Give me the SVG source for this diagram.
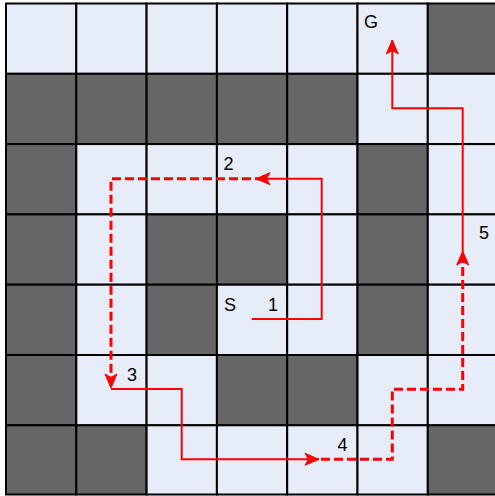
<svg xmlns="http://www.w3.org/2000/svg" width="495" height="496" viewBox="0 0 495 496">
<defs>
<style>
.l{fill:#e6edf8;stroke:#000;stroke-width:2}
.d{fill:#666666;stroke:#000;stroke-width:2}
.s{fill:none;stroke:#ff0000;stroke-width:2}
.ds{fill:none;stroke:#ff0000;stroke-width:3;stroke-dasharray:9 4}
text{font-family:"Liberation Sans",Arial,sans-serif;font-size:18px;fill:#000}
</style>
<marker id="ah" markerUnits="userSpaceOnUse" viewBox="-15 -7 16 14" refX="0" refY="0" markerWidth="16" markerHeight="14" orient="auto">
<path d="M0,0 L-14,-6 L-10.5,0 L-14,6 Z" fill="#ff0000" stroke="#ff0000" stroke-width="1"/>
</marker>
</defs>
<rect width="495" height="496" fill="#ffffff"/>
<g id="grid">
<rect class="l" x="6" y="3.5" width="70.3" height="70.3"/>
<rect class="l" x="76.3" y="3.5" width="70.3" height="70.3"/>
<rect class="l" x="146.6" y="3.5" width="70.3" height="70.3"/>
<rect class="l" x="216.9" y="3.5" width="70.3" height="70.3"/>
<rect class="l" x="287.2" y="3.5" width="70.3" height="70.3"/>
<rect class="l" x="357.5" y="3.5" width="70.3" height="70.3"/>
<rect class="d" x="427.8" y="3.5" width="70.3" height="70.3"/>
<rect class="d" x="6" y="73.8" width="70.3" height="70.3"/>
<rect class="d" x="76.3" y="73.8" width="70.3" height="70.3"/>
<rect class="d" x="146.6" y="73.8" width="70.3" height="70.3"/>
<rect class="d" x="216.9" y="73.8" width="70.3" height="70.3"/>
<rect class="d" x="287.2" y="73.8" width="70.3" height="70.3"/>
<rect class="l" x="357.5" y="73.8" width="70.3" height="70.3"/>
<rect class="l" x="427.8" y="73.8" width="70.3" height="70.3"/>
<rect class="d" x="6" y="144.1" width="70.3" height="70.3"/>
<rect class="l" x="76.3" y="144.1" width="70.3" height="70.3"/>
<rect class="l" x="146.6" y="144.1" width="70.3" height="70.3"/>
<rect class="l" x="216.9" y="144.1" width="70.3" height="70.3"/>
<rect class="l" x="287.2" y="144.1" width="70.3" height="70.3"/>
<rect class="d" x="357.5" y="144.1" width="70.3" height="70.3"/>
<rect class="l" x="427.8" y="144.1" width="70.3" height="70.3"/>
<rect class="d" x="6" y="214.4" width="70.3" height="70.3"/>
<rect class="l" x="76.3" y="214.4" width="70.3" height="70.3"/>
<rect class="d" x="146.6" y="214.4" width="70.3" height="70.3"/>
<rect class="d" x="216.9" y="214.4" width="70.3" height="70.3"/>
<rect class="l" x="287.2" y="214.4" width="70.3" height="70.3"/>
<rect class="d" x="357.5" y="214.4" width="70.3" height="70.3"/>
<rect class="l" x="427.8" y="214.4" width="70.3" height="70.3"/>
<rect class="d" x="6" y="284.7" width="70.3" height="70.3"/>
<rect class="l" x="76.3" y="284.7" width="70.3" height="70.3"/>
<rect class="d" x="146.6" y="284.7" width="70.3" height="70.3"/>
<rect class="l" x="216.9" y="284.7" width="70.3" height="70.3"/>
<rect class="l" x="287.2" y="284.7" width="70.3" height="70.3"/>
<rect class="d" x="357.5" y="284.7" width="70.3" height="70.3"/>
<rect class="l" x="427.8" y="284.7" width="70.3" height="70.3"/>
<rect class="d" x="6" y="355" width="70.3" height="70.3"/>
<rect class="l" x="76.3" y="355" width="70.3" height="70.3"/>
<rect class="l" x="146.6" y="355" width="70.3" height="70.3"/>
<rect class="d" x="216.9" y="355" width="70.3" height="70.3"/>
<rect class="d" x="287.2" y="355" width="70.3" height="70.3"/>
<rect class="l" x="357.5" y="355" width="70.3" height="70.3"/>
<rect class="l" x="427.8" y="355" width="70.3" height="70.3"/>
<rect class="d" x="6" y="425.3" width="70.3" height="69.2"/>
<rect class="d" x="76.3" y="425.3" width="70.3" height="69.2"/>
<rect class="l" x="146.6" y="425.3" width="70.3" height="69.2"/>
<rect class="l" x="216.9" y="425.3" width="70.3" height="69.2"/>
<rect class="l" x="287.2" y="425.3" width="70.3" height="69.2"/>
<rect class="l" x="357.5" y="425.3" width="70.3" height="69.2"/>
<rect class="d" x="427.8" y="425.3" width="70.3" height="69.2"/>
</g>
<g id="connectors">
<path class="s" d="M251.7,319 H321.7 V178.7 H256" marker-end="url(#ah)"/>
<path class="ds" d="M264,178.7 H111 V388" marker-end="url(#ah)"/>
<path class="s" d="M111,389 H181.7 V459.3 H319" marker-end="url(#ah)"/>
<path class="ds" d="M321,459.3 H392.3 V389.3 H462.7 V251" marker-end="url(#ah)"/>
<path class="s" d="M462.7,252 V108.3 H392.3 V40" marker-end="url(#ah)"/>
</g>
<g id="labels">
<text id="G" x="364" y="28">G</text>
<text id="n2" x="223.5" y="169.5">2</text>
<text id="S" x="224" y="310.5">S</text>
<text id="n1" x="268" y="310.5">1</text>
<text id="n3" x="127" y="380.5">3</text>
<text id="n4" x="337.5" y="451">4</text>
<text id="n5" x="479" y="239">5</text>
</g>
</svg>
